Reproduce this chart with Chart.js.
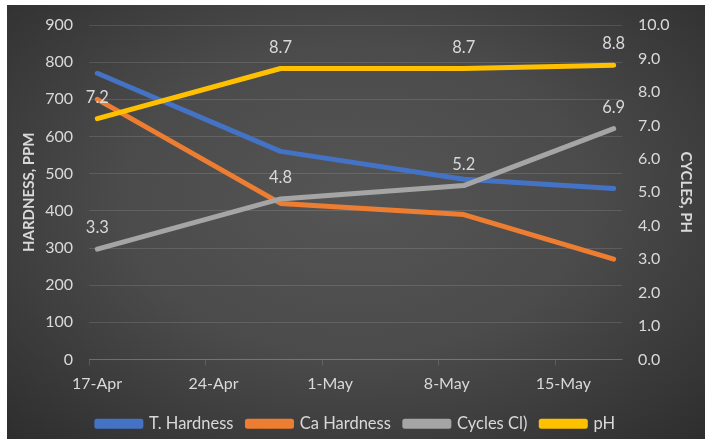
<!DOCTYPE html>
<html><head><meta charset="utf-8">
<script src="https://cdn.jsdelivr.net/npm/chart.js@4.4.1/dist/chart.umd.min.js"></script>
<style>
html,body{margin:0;padding:0;background:#fff;}
#wrap{position:absolute;left:7px;top:5px;width:698px;height:434px;
background:radial-gradient(ellipse 75% 80% at 50% 45%, #555555 0%, #4b4b4b 45%, #2b2b2b 100%);}
canvas{display:block;}
</style></head><body>
<div id="wrap"><canvas id="c" width="698" height="434"></canvas></div>
<script>
// Data
const dates = ['17-Apr','28-Apr','9-May','18-May'];
const dayOffsets = [0, 11, 22, 31];           // days after 17-Apr
const xTickLabels = ['17-Apr','24-Apr','1-May','8-May','15-May'];
const xTickDays = [0, 7, 14, 21, 28];
const tHardness = [770, 560, 485, 460];
const caHardness = [700, 420, 390, 270];
const cyclesCl = [3.3, 4.8, 5.2, 6.9];
const pH = [7.2, 8.7, 8.7, 8.8];
const seriesNames = ['T. Hardness','Ca Hardness','Cycles Cl)','pH'];

const pts = arr => arr.map((v,i)=>({x: dayOffsets[i], y: v}));
const TXT = '#d9d9d9';
const FONT = 'Lato';

const labelPlugin = {
  id: 'valLabels',
  afterDatasetsDraw(chart) {
    const ctx = chart.ctx;
    ctx.save();
    ctx.font = '16.5px ' + FONT;
    ctx.fillStyle = TXT;
    ctx.textAlign = 'center';
    ctx.textBaseline = 'middle';
    chart.data.datasets.forEach((ds, di) => {
      if (!ds.showValues) return;
      const meta = chart.getDatasetMeta(di);
      meta.data.forEach((el, i) => {
        ctx.fillText(ds.data[i].y.toFixed(1), el.x, el.y - 21);
      });
    });
    ctx.restore();
  }
};

const mk = (label, data, color, axis, order, showValues) => ({
  label, data: pts(data), borderColor: color, backgroundColor: color,
  borderWidth: 5, borderCapStyle: 'round', borderJoinStyle: 'round',
  pointRadius: 0, tension: 0, yAxisID: axis, order, showValues
});

new Chart(document.getElementById('c'), {
  type: 'line',
  data: {
    datasets: [
      mk(seriesNames[0], tHardness, '#4472C4', 'y', 4, false),
      mk(seriesNames[1], caHardness, '#ED7D31', 'y', 3, false),
      mk(seriesNames[2], cyclesCl, '#A5A5A5', 'y2', 2, true),
      mk(seriesNames[3], pH, '#FFC000', 'y2', 1, true)
    ]
  },
  options: {
    responsive: false,
    animation: false,
    layout: { padding: { top: 9, left: 0, right: 0, bottom: -3 } },
    plugins: {
      tooltip: { enabled: false },
      legend: {
        position: 'bottom',
        labels: {
          color: TXT, font: { family: FONT, size: 16.5 },
          boxWidth: 44, boxHeight: 5, padding: 14,
          sort: (a, b) => a.datasetIndex - b.datasetIndex
        }
      }
    },
    scales: {
      x: {
        type: 'linear', min: -0.5, max: 31.5,
        afterBuildTicks: s => { s.ticks = xTickDays.map(d => ({ value: d - 0.5 })); },
        afterFit: s => { s.height = 42; },
        ticks: {
          color: TXT, font: { family: FONT, size: 16 }, padding: 9,
          labelOffset: 8, maxRotation: 0, autoSkip: false,
          callback: (v, i) => xTickLabels[i]
        },
        grid: { drawOnChartArea: false, drawTicks: true, tickLength: 6, color: 'rgba(255,255,255,0.14)' },
        border: { color: 'rgba(255,255,255,0.14)' }
      },
      y: {
        position: 'left', min: 0, max: 900,
        afterFit: s => { s.width = 82; },
        ticks: { stepSize: 100, color: TXT, font: { family: FONT, size: 16, lineHeight: 0.5 }, padding: 16 },
        grid: { color: 'rgba(255,255,255,0.12)', drawTicks: false },
        border: { display: false },
        title: { display: true, text: 'HARDNESS, PPM', color: TXT, font: { family: FONT, size: 15, weight: 'bold' }, padding: { top: 13, bottom: 0 } }
      },
      y2: {
        position: 'right', min: 0, max: 10,
        afterFit: s => { s.width = 83; },
        ticks: { stepSize: 1, color: TXT, font: { family: FONT, size: 16, lineHeight: 0.5 }, padding: 16, callback: v => v.toFixed(1) },
        grid: { display: false, drawTicks: false },
        border: { display: false },
        title: { display: true, text: 'CYCLES, PH', color: TXT, font: { family: FONT, size: 15, weight: 'bold' }, padding: { top: 10, bottom: 0 } }
      }
    }
  },
  plugins: [labelPlugin]
});
</script>
</body></html>
